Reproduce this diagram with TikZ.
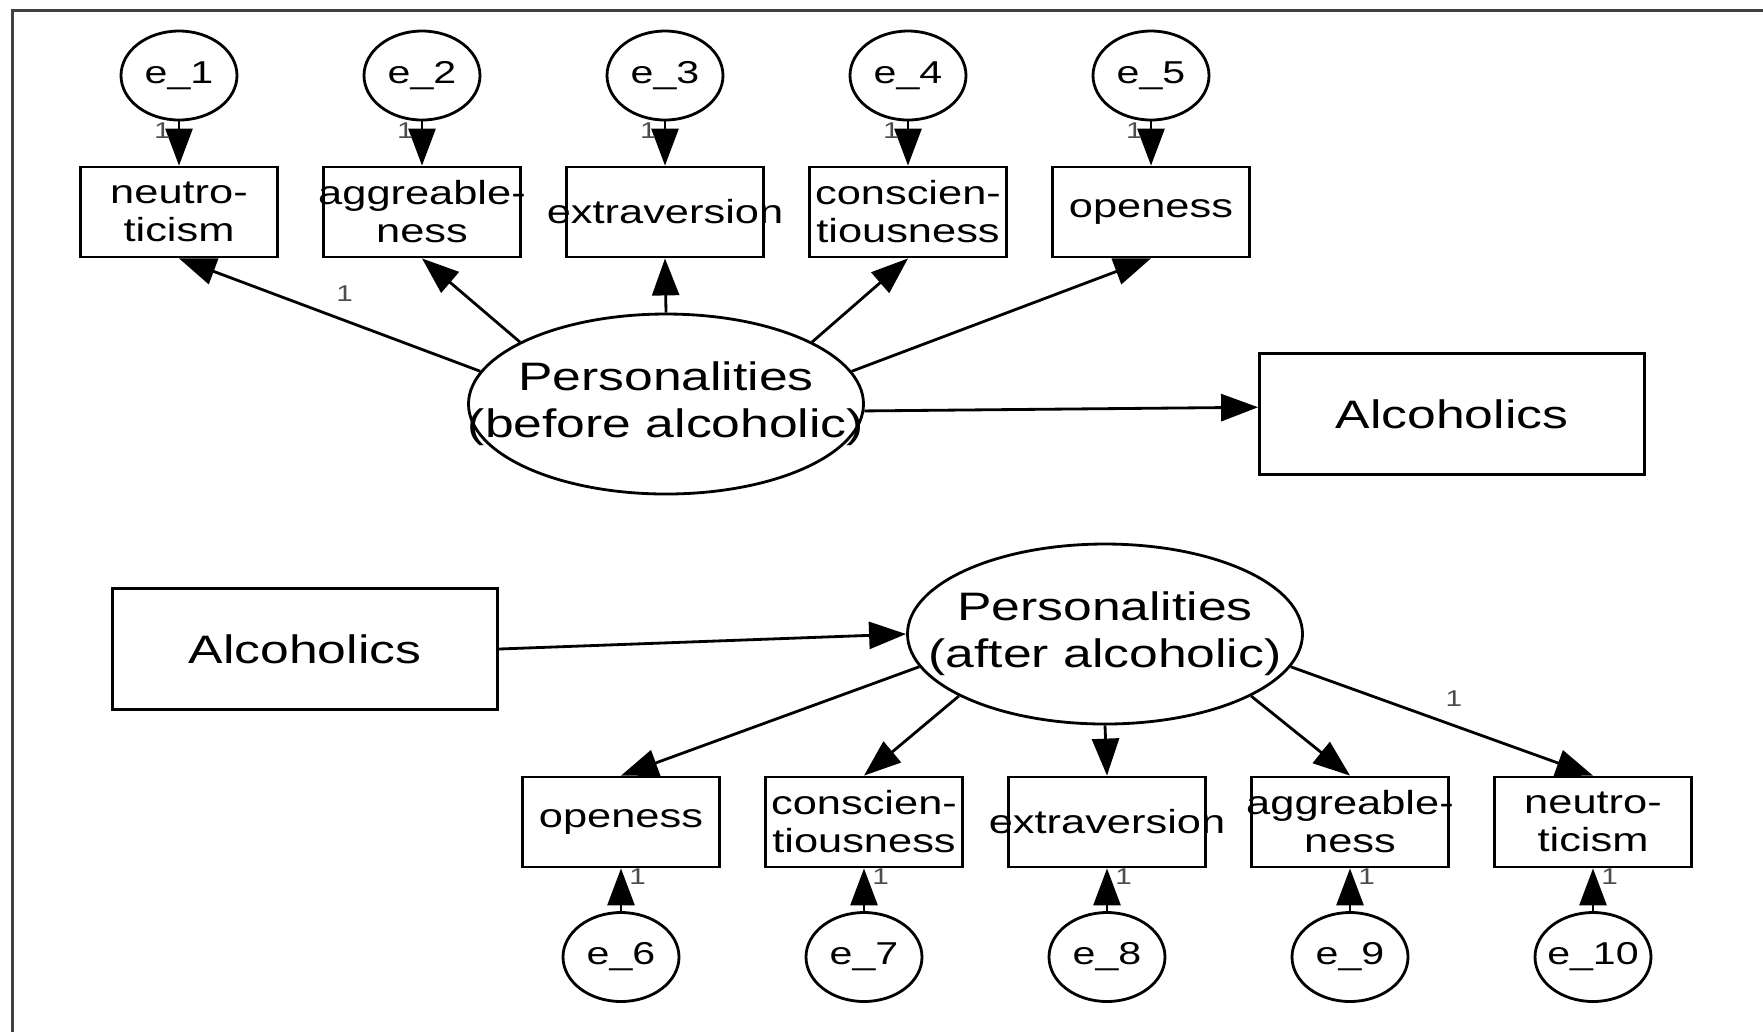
\documentclass[tikz,border=0pt]{standalone}
\usepackage{fontspec}
\setmainfont{Liberation Sans}[FakeStretch=1.3]
\usepackage{tikz}
\usetikzlibrary{shapes.geometric, arrows.meta, positioning}
\newcommand{\ctext}[1]{\makebox[0pt]{#1}}
\tikzset{
	latent/.style  ={ellipse, draw=black, line width=0.8pt, minimum width=3.95cm, minimum height=1.8cm, inner sep=0pt, align=center, font=\fontsize{11.3}{13.4}\selectfont},
	errvar/.style  ={ellipse, draw=black, line width=0.8pt, minimum width=1.16cm, minimum height=0.89cm, inner sep=0pt, font=\fontsize{9}{11}\selectfont},
	obsvar/.style  ={rectangle, draw=black, line width=0.8pt, minimum width=1.97cm, minimum height=0.9cm, inner sep=0pt, align=center, font=\fontsize{9.5}{10.8}\selectfont},
	bigbox/.style  ={rectangle, draw=black, line width=0.8pt, minimum width=3.85cm, minimum height=1.21cm, inner sep=0pt, font=\fontsize{11.3}{13.4}\selectfont},
	regarrow/.style={-{Triangle[length=3.7mm, width=2.7mm]}, line width=0.8pt},
	wlabel/.style  ={font=\fontsize{6.5}{7}\selectfont, text=black!70, inner sep=0pt},
}
\begin{document}
\begin{tikzpicture}
	\useasboundingbox (0,0) rectangle (17.63,-10.32);
	% frame
	\draw[line width=0.8pt, black!75] (17.63,-0.107) -- (0.127,-0.107) -- (0.127,-10.32);
	% model before
	\node[latent] (pb) at (6.66,-4.04) {\ctext{Personalities}\\\ctext{(before alcoholic)}};
	\node[bigbox] (alc1) at (14.52,-4.14) {Alcoholics};
	\foreach \i/\x/\lbl in {1/1.79/{\ctext{neutro-}\\\ctext{ticism}}, 2/4.22/{\ctext{aggreable-}\\\ctext{ness}}, 3/6.65/{\ctext{extraversion}}, 4/9.08/{\ctext{conscien-}\\\ctext{tiousness}}, 5/11.51/{\ctext{openess}}} {
		\node[errvar] (e\i) at (\x,-0.755) {\ctext{e\_\i}};
		\node[obsvar] (t\i) at (\x,-2.12) {\lbl};
		\draw[regarrow] (e\i) -- node[wlabel, pos=0.2, left=2pt] {1} (t\i);
	}
	\draw[regarrow] (pb.170) -- node[wlabel, pos=0.45, above=5pt] {1} (t1.south);
	\foreach \i/\a in {2/157, 3/90, 4/23, 5/10}
		\draw[regarrow] (pb.\a) -- (t\i.south);
	\draw[regarrow] (pb.-2) -- (alc1.178);
	% model after
	\node[bigbox] (alc2) at (3.05,-6.49) {Alcoholics};
	\node[latent] (pa) at (11.05,-6.34) {\ctext{Personalities}\\\ctext{(after alcoholic)}};
	\draw[regarrow] (alc2.east) -- (pa.west);
	\foreach \i/\j/\x/\lbl in {1/6/6.21/{\ctext{openess}}, 2/7/8.64/{\ctext{conscien-}\\\ctext{tiousness}}, 3/8/11.07/{\ctext{extraversion}}, 4/9/13.50/{\ctext{aggreable-}\\\ctext{ness}}, 5/10/15.93/{\ctext{neutro-}\\\ctext{ticism}}} {
		\node[errvar] (e\j) at (\x,-9.57) {\ctext{e\_\j}};
		\node[obsvar] (b\i) at (\x,-8.22) {\lbl};
		\draw[regarrow] (e\j) -- node[wlabel, pos=0.8, right=2pt] {1} (b\i);
	}
	\foreach \i/\a in {1/190, 2/203, 3/270, 4/337}
		\draw[regarrow] (pa.\a) -- (b\i.north);
	\draw[regarrow] (pa.350) -- node[wlabel, pos=0.54, above=5pt] {1} (b5.north);
\end{tikzpicture}
\end{document}
